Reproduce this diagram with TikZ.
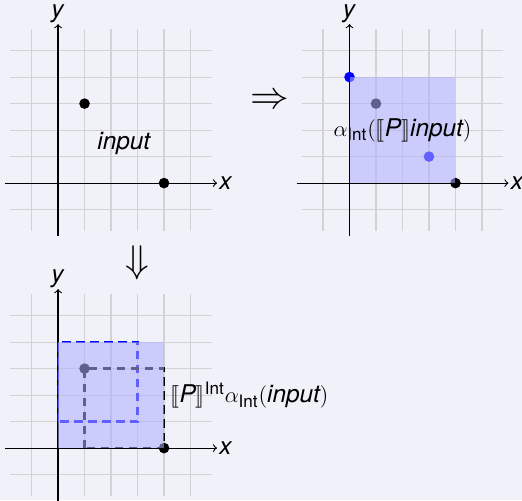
\documentclass[tikz,border=0pt]{standalone}
\usepackage{amsmath}
\usepackage{stmaryrd}
\usepackage{fontspec}
\setmainfont{TeX Gyre Heros}
\definecolor{bgc}{RGB}{241,241,250}
\definecolor{shade}{RGB}{175,175,255}
\tikzset{
  gridlines/.style={draw=gray!35, line width=0.6pt, step=0.5cm},
  axisline/.style={->, line width=0.6pt},
  lbl/.style={font=\fontsize{13.1}{15.7}\selectfont},
  bigarrow/.style={font=\fontsize{19.5}{21}\selectfont, inner sep=0pt},
  shadebox/.style={fill=shade, fill opacity=0.55},
  dashbox/.style={line width=1.3pt, dash pattern=on 4.5pt off 3pt},
}
\newcommand{\gridaxes}[1]{%
  \draw[gridlines] (-1.8,-1.8) grid (5.8,5.8);
  \coordinate (xs#1) at (-2,0);
  \coordinate (xe#1) at (6,0);
  \coordinate (ys#1) at (0,-2);
  \coordinate (ye#1) at (0,6);
  \draw[axisline] (xs#1) -- (xe#1) node[lbl, right, inner sep=1pt] (xl#1) {\textit{x}};
  \draw[axisline] (ys#1) -- (ye#1) node[lbl, above, inner sep=0.5pt] (yl#1) {\textit{y}};
}
\begin{document}
\begin{tikzpicture}[x=0.5cm, y=0.5cm]
\fill[bgc] (-2.19,-11.96) rectangle (17.51,6.91);
\useasboundingbox (-2.19,-11.96) rectangle (17.51,6.91);

% panel 1
\begin{scope}
  \gridaxes{a}
  \fill[black] (1,3) circle (0.2);
  \fill[black] (4,0) circle (0.2);
  \node[lbl] (inp) at (2.5,1.5) {\textit{input}};
\end{scope}

% panel 2
\begin{scope}[shift={(11,0)}]
  \gridaxes{b}
  \fill[blue] (0,4) circle (0.2);
  \fill[black] (1,3) circle (0.2);
  \fill[blue] (3,1) circle (0.2);
  \fill[black] (4,0) circle (0.2);
  \fill[shadebox] (0,0) rectangle (4,4);
  \node[lbl, inner sep=0pt] (abs) at (2,2) {$\alpha_{\text{Int}}(\llbracket \textit{P}\rrbracket\textit{input})$};
\end{scope}

% panel 3
\begin{scope}[shift={(0,-10)}]
  \gridaxes{c}
  \draw[dashbox, blue] (0,1) rectangle (3,4);
  \draw[dashbox, black] (1,0) rectangle (4,3);
  \fill[black] (1,3) circle (0.2);
  \fill[black] (4,0) circle (0.2);
  \fill[shadebox] (0,0) rectangle (4,4);
  \node[lbl, right] (sem) at (4,2) {$\llbracket \textit{P}\rrbracket^{\text{Int}}\alpha_{\text{Int}}(\textit{input})$};
\end{scope}

\node[bigarrow] (rarr) at (8,3.1) {$\Rightarrow$};
\node[bigarrow] (darr) at (3,-3) {$\Downarrow$};
\end{tikzpicture}
\end{document}
